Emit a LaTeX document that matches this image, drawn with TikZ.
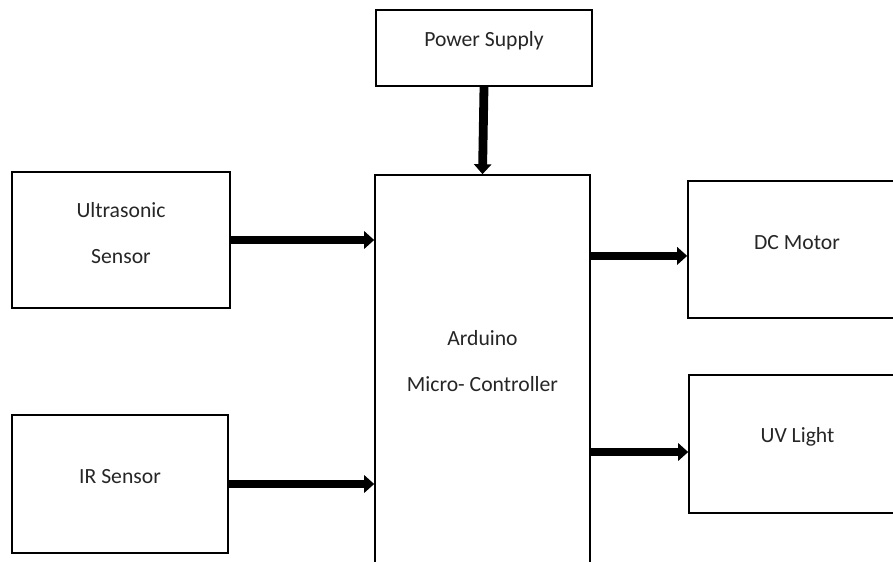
\documentclass[tikz,border=0pt]{standalone}
\usepackage{fontspec}
\setmainfont{Carlito}
\usepackage{tikz}
\usetikzlibrary{arrows.meta,positioning,calc}

\begin{document}
\begin{tikzpicture}[x=0.025cm, y=-0.025cm,
  block/.style={draw=black, line width=1.1pt, fill=white, inner sep=0pt},
  txt/.style={font=\fontsize{15.4}{32.5}\selectfont, align=center, yshift=0.18cm, text=black!85},
  flow/.style={-{Triangle[length=0.25cm,width=0.43cm]}, line width=0.22cm}]
\useasboundingbox (0,0) rectangle (893,561);
\clip (0,0) rectangle (893,561);
\node[block, minimum width=5.4cm, minimum height=1.9cm, label={[txt]center:Power Supply}] (ps) at (484,48) {};
\node[block, minimum width=5.375cm, minimum height=9.7cm, label={[txt, yshift=0.02cm]center:Arduino\\Micro- Controller}] (ard) at (482.5,369) {};
\node[block, minimum width=5.45cm, minimum height=3.4cm, label={[txt]center:Ultrasonic\\Sensor}] (us) at (121,240) {};
\node[block, minimum width=5.4cm, minimum height=3.45cm, label={[txt]center:IR Sensor}] (ir) at (120,484) {};
\node[block, minimum width=5.45cm, minimum height=3.425cm, label={[txt]center:DC Motor}] (dc) at (797,249.5) {};
\node[block, minimum width=5.425cm, minimum height=3.45cm, label={[txt]center:UV Light}] (uv) at (797.5,444) {};
\draw[flow] (ps.south) -- (ard.north);
\draw[flow] (us.east) -- (us.east -| ard.west);
\draw[flow] (ir.east) -- (ir.east -| ard.west);
\draw[flow] ([yshift=-0.16cm]dc.west -| ard.east) -- ([yshift=-0.16cm]dc.west);
\draw[flow] ([yshift=-0.2cm]uv.west -| ard.east) -- ([yshift=-0.2cm]uv.west);
\end{tikzpicture}
\end{document}
